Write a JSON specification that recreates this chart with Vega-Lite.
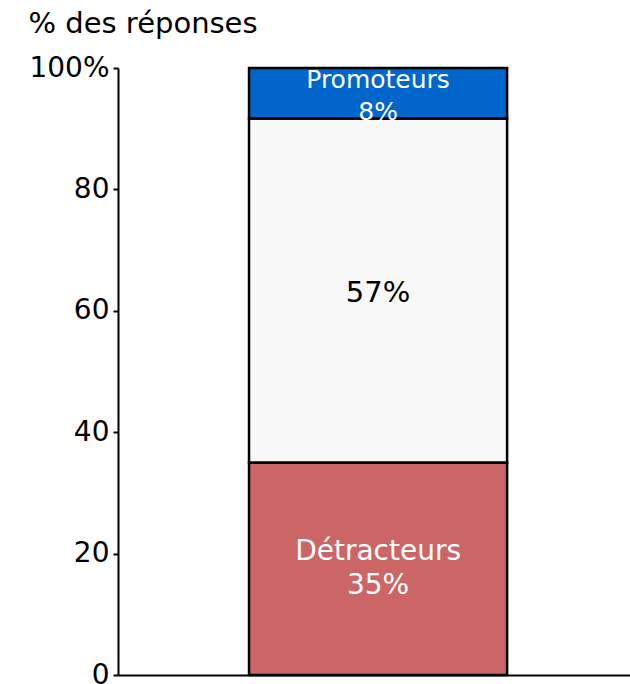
{
  "$schema": "https://vega.github.io/schema/vega-lite/v6.json",
  "width": 512,
  "height": 607,
  "autosize": "none",
  "padding": {"left": 118, "top": 68, "right": 0, "bottom": 9},
  "background": "white",
  "config": {"view": {"stroke": null}, "font": "DejaVu Sans"},
  "data": {
    "values": [
      {"q": "NPS", "cat": "Détracteurs", "pct": 35, "label": ["Détracteurs", "35%"], "ord": 1},
      {"q": "NPS", "cat": "Passifs", "pct": 56.7, "label": ["57%"], "ord": 2},
      {"q": "NPS", "cat": "Promoteurs", "pct": 8.3, "label": ["Promoteurs", "8%"], "ord": 3}
    ]
  },
  "encoding": {
    "x": {
      "field": "q", "type": "nominal",
      "scale": {"paddingInner": 0, "paddingOuter": 0.492, "align": 0.516},
      "axis": {"labels": false, "ticks": false, "title": null, "domainColor": "black", "domainWidth": 2}
    }
  },
  "layer": [
    {
      "mark": {"type": "bar", "stroke": "black", "strokeWidth": 2.5},
      "encoding": {
        "y": {
          "field": "pct", "type": "quantitative", "stack": "zero",
          "scale": {"domain": [0, 100], "nice": false},
          "axis": {
            "values": [0, 20, 40, 60, 80, 100],
            "labelExpr": "datum.value == 100 ? '100%' : datum.label",
            "grid": false,
            "domainColor": "black", "domainWidth": 2,
            "tickColor": "black", "tickWidth": 2, "tickSize": 5,
            "labelFontSize": 28, "labelColor": "black", "labelPadding": 4,
            "title": "% des réponses", "titleAngle": 0, "titleX": -90, "titleY": -36,
            "titleAlign": "left", "titleBaseline": "alphabetic",
            "titleFontSize": 29, "titleFontWeight": "normal", "titleColor": "black"
          }
        },
        "order": {"field": "ord", "type": "quantitative"},
        "color": {
          "field": "cat", "type": "nominal",
          "scale": {"domain": ["Détracteurs", "Passifs", "Promoteurs"], "range": ["#cc6666", "#f8f8f8", "#0066cc"]},
          "legend": null
        }
      }
    },
    {
      "transform": [
        {"stack": "pct", "groupby": ["q"], "sort": [{"field": "ord"}], "as": ["v0", "v1"]},
        {"calculate": "(datum.v0 + datum.v1) / 2", "as": "mid"},
        {"filter": "datum.cat === 'Détracteurs'"}
      ],
      "mark": {"type": "text", "fontSize": 28, "color": "white", "baseline": "middle", "lineHeight": 34, "dy": -17},
      "encoding": {"y": {"field": "mid", "type": "quantitative"}, "text": {"field": "label"}}
    },
    {
      "transform": [
        {"stack": "pct", "groupby": ["q"], "sort": [{"field": "ord"}], "as": ["v0", "v1"]},
        {"calculate": "(datum.v0 + datum.v1) / 2", "as": "mid"},
        {"filter": "datum.cat === 'Passifs'"}
      ],
      "mark": {"type": "text", "fontSize": 29, "color": "black", "baseline": "middle", "dy": 3},
      "encoding": {"y": {"field": "mid", "type": "quantitative"}, "text": {"field": "label"}}
    },
    {
      "transform": [
        {"stack": "pct", "groupby": ["q"], "sort": [{"field": "ord"}], "as": ["v0", "v1"]},
        {"calculate": "(datum.v0 + datum.v1) / 2", "as": "mid"},
        {"filter": "datum.cat === 'Promoteurs'"}
      ],
      "mark": {"type": "text", "fontSize": 25, "color": "white", "baseline": "middle", "lineHeight": 32, "dy": -13},
      "encoding": {"y": {"field": "mid", "type": "quantitative"}, "text": {"field": "label"}}
    }
  ]
}
